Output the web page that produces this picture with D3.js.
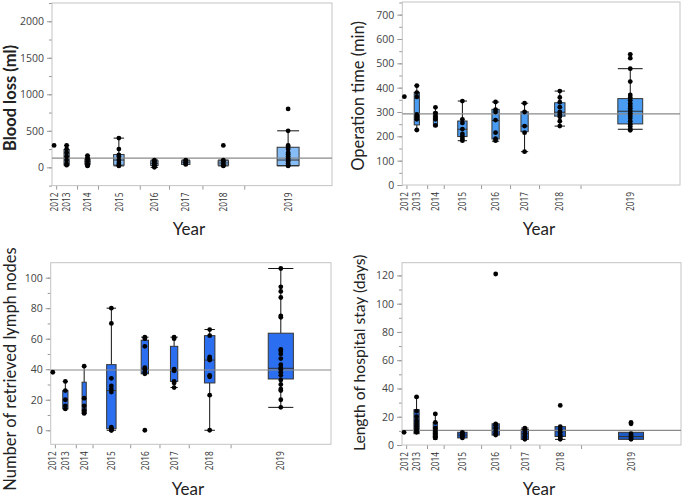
<!DOCTYPE html>
<html>
<head>
<meta charset="utf-8">
<script src="https://cdnjs.cloudflare.com/ajax/libs/d3/7.8.5/d3.min.js"></script>
<style>
  body { margin: 0; background: #fff; }
  svg { display: block; }
</style>
</head>
<body>
<div id="container"></div>
<script>
// Years (x categories)
var years = ["2012", "2013", "2014", "2015", "2016", "2017", "2018", "2019"];

// Blood loss (ml)
var bloodN   = [1, 5, 5, 10, 7, 8, 10, 21];
var bloodQ1  = [null, 30, 40, 30, 25, 40, 30, 25];
var bloodMed = [null, 150, 80, 100, 55, 70, 60, 100];
var bloodQ3  = [null, 245, 120, 175, 90, 90, 90, 275];
var bloodLo  = [null, 30, 20, 20, 0, 40, 20, 20];
var bloodHi  = [null, 300, 160, 400, 100, 100, 100, 500];
var bloodPts = [[300], [300, 250, 200, 150, 100, 50, 30], [160, 130, 110, 80, 50, 30, 20],
  [400, 250, 170, 150, 100, 60, 30, 20], [100, 80, 60, 50, 30, 10, 0], [100, 90, 70, 50, 40],
  [300, 100, 80, 50, 30, 20], [800, 500, 300, 280, 250, 200, 180, 150, 120, 100, 80, 50, 30, 20]];
var bloodMean = 125;

// Operation time (min)
var opN   = [1, 5, 4, 9, 7, 7, 10, 24];
var opQ1  = [null, 247, 245, 199, 189, 219, 283, 251];
var opMed = [null, 280, 275, 229, 265, 242, 299, 303];
var opQ3  = [null, 381, 299, 263, 311, 301, 338, 355];
var opLo  = [null, 226, 240, 182, 180, 137, 242, 229];
var opHi  = [null, 408, 319, 345, 341, 336, 386, 478];
var opPts = [[363], [408, 380, 362, 290, 280, 270, 226], [319, 295, 280, 270, 245],
  [345, 270, 255, 230, 210, 200, 190, 182], [341, 310, 300, 267, 215, 190, 182],
  [336, 300, 242, 215, 137], [386, 360, 340, 320, 300, 290, 280, 262, 242],
  [537, 521, 478, 425, 370, 360, 348, 335, 325, 315, 305, 295, 285, 275, 262, 250, 240, 230, 225]];
var opMean = 292;

// Number of retrieved lymph nodes
var lnN   = [1, 5, 4, 9, 7, 7, 10, 24];
var lnQ1  = [null, 14, 11, 1, 37, 32, 31, 33.6];
var lnMed = [null, 20, 20, 26, 40, 39, 46, 40.6];
var lnQ3  = [null, 26, 31.5, 43, 59, 55, 62, 63.6];
var lnLo  = [null, 14, 11, 0, 37, 28, 0, 15];
var lnHi  = [null, 32, 42, 80, 61, 61, 66, 106];
var lnPts = [[38], [32, 26, 20, 16, 14], [42, 21, 16, 13, 11], [80, 70, 34, 29, 27, 25, 2, 1, 0, 0],
  [61, 60, 55, 41, 40, 38, 37, 0], [61, 60, 40, 39, 32, 31, 28], [66, 62, 48, 47, 46, 36, 35, 23, 0],
  [106, 94, 91, 87, 75, 74, 53, 52, 50, 47, 43, 41, 40, 38, 36, 33, 30, 27, 26, 20, 15]];
var lnMean = 39.5;

// Length of hospital stay (days)
var losN   = [1, 5, 4, 9, 7, 7, 10, 24];
var losQ1  = [null, 8, 5, 5, 7, 4, 6, 4];
var losMed = [null, 14, 8, 7, 12, 8, 10, 6];
var losQ3  = [null, 25, 16, 9, 15, 11, 13, 9];
var losLo  = [null, 8, 4, 5, 7, 4, 4, 4];
var losHi  = [null, 34, 22, 9, 15, 12, 13, 9];
var losPts = [[9], [34, 24, 20, 17, 15, 13, 11, 10, 9], [22, 16, 12, 10, 8, 6, 5], [9, 8, 7, 6, 5],
  [121, 15, 14, 12, 10, 8, 7], [12, 11, 10, 8, 6, 5, 4], [28, 13, 11, 9, 7, 6, 5, 4],
  [16, 15, 8, 7, 6, 5, 4]];
var losMean = 10.3;

var svg = d3.select("#container")
            .append("svg")
              .attr("width", 685)
              .attr("height", 499);

var defs = svg.append("defs");
var panelCount = 0;

function drawPanel(p) {

  panelCount++;
  var g = svg.append("g");

  // Cumulative group edges, widths proportional to n
  var edges = [0];
  p.n.forEach(function(v, i) { edges.push(edges[i] + v); });

  var x = d3.scaleLinear()
            .domain([0, edges[edges.length - 1]])
            .range([p.left, p.right]);

  var y = d3.scaleLinear()
            .domain(p.domain)
            .range([p.bottom, p.top]);

  // Minor y ticks
  g.append("g")
    .attr("transform", "translate(" + p.left + ",0)")
    .call(d3.axisLeft(y).tickValues(p.minor).tickSize(3).tickFormat(""))
    .call(function(a) { a.select(".domain").remove(); })
    .selectAll("line").attr("stroke", "#999");

  // Major y ticks
  var yAxis = g.append("g")
    .attr("transform", "translate(" + p.left + ",0)")
    .call(d3.axisLeft(y).tickValues(p.major).tickSize(5).tickPadding(3).tickFormat(d3.format("d")));
  yAxis.select(".domain").remove();
  yAxis.selectAll("line").attr("stroke", "#999");
  yAxis.selectAll("text")
    .attr("fill", "#444")
    .style("font-family", "'Open Sans', sans-serif")
    .style("font-size", "10.5px");

  // Group boundary ticks on x
  var xAxis = g.append("g")
    .attr("transform", "translate(0," + p.bottom + ")")
    .call(d3.axisBottom(x).tickValues(edges.slice(1, edges.length - 1)).tickSize(4).tickFormat(""));
  xAxis.select(".domain").remove();
  xAxis.selectAll("line").attr("stroke", "#999");

  // Year labels, rotated
  g.selectAll("text.year")
    .data(years)
    .enter()
    .append("text")
      .attr("class", "year")
      .attr("transform", function(d, i) {
        return "translate(" + x((edges[i] + edges[i + 1]) / 2) + "," + (p.bottom + 7) + ") rotate(-90)";
      })
      .attr("dy", "0.35em")
      .attr("text-anchor", "end")
      .attr("textLength", 19)
      .attr("lengthAdjust", "spacingAndGlyphs")
      .style("font-family", "'Open Sans', sans-serif")
      .style("font-size", "10.5px")
      .attr("fill", "#333")
      .text(function(d) { return d; });

  // Frame
  g.append("rect")
    .attr("x", p.left)
    .attr("y", p.top)
    .attr("width", p.right - p.left)
    .attr("height", p.bottom - p.top)
    .attr("fill", "none")
    .attr("stroke", "#c4c4c4");

  var idx = d3.range(years.length).filter(function(i) { return p.q1[i] != null; });
  function cx(i) { return x((edges[i] + edges[i + 1]) / 2); }
  function bw(i) { return (x(edges[i + 1]) - x(edges[i])) * 0.25; }

  // Whiskers
  idx.forEach(function(i) {
    var c = cx(i), h = bw(i) / 2;
    g.append("line")
      .attr("x1", c).attr("x2", c)
      .attr("y1", y(p.q3[i])).attr("y2", y(p.hi[i]))
      .attr("stroke", "#111");
    g.append("line")
      .attr("x1", c).attr("x2", c)
      .attr("y1", y(p.q1[i])).attr("y2", y(p.lo[i]))
      .attr("stroke", "#111");
    if (p.hi[i] > p.q3[i]) {
      g.append("line")
        .attr("x1", c - h).attr("x2", c + h)
        .attr("y1", y(p.hi[i])).attr("y2", y(p.hi[i]))
        .attr("stroke", "#111");
    }
    if (p.lo[i] < p.q1[i]) {
      g.append("line")
        .attr("x1", c - h).attr("x2", c + h)
        .attr("y1", y(p.lo[i])).attr("y2", y(p.lo[i]))
        .attr("stroke", "#111");
    }
  });

  // Boxes
  g.selectAll("rect.box")
    .data(idx)
    .enter()
    .append("rect")
      .attr("class", "box")
      .attr("x", function(i) { return cx(i) - bw(i) / 2; })
      .attr("y", function(i) { return y(p.q3[i]); })
      .attr("width", function(i) { return bw(i); })
      .attr("height", function(i) { return y(p.q1[i]) - y(p.q3[i]); })
      .attr("fill", p.color)
      .attr("stroke", "#333");

  // Medians
  g.selectAll("line.med")
    .data(idx)
    .enter()
    .append("line")
      .attr("class", "med")
      .attr("x1", function(i) { return cx(i) - bw(i) / 2; })
      .attr("x2", function(i) { return cx(i) + bw(i) / 2; })
      .attr("y1", function(i) { return y(p.med[i]); })
      .attr("y2", function(i) { return y(p.med[i]); })
      .attr("stroke", "#333");

  // Grand mean line
  g.append("line")
    .attr("x1", p.left).attr("x2", p.right)
    .attr("y1", y(p.mean)).attr("y2", y(p.mean))
    .attr("stroke", "#8a8a8a")
    .attr("stroke-width", 1.2);

  // Points
  p.pts.forEach(function(list, i) {
    g.selectAll(null)
      .data(list)
      .enter()
      .append("circle")
        .attr("cx", cx(i))
        .attr("cy", function(d) { return y(d); })
        .attr("r", 2.4)
        .attr("fill", "#000");
  });

  // Axis titles (wrapped so an optional clip works in page coords)
  var ylWrap = g.append("g");
  if (p.clipTop != null) {
    var id = "clipYl" + panelCount;
    defs.append("clipPath")
      .attr("id", id)
      .append("rect")
        .attr("x", 0).attr("y", p.clipTop).attr("width", 685).attr("height", 499 - p.clipTop);
    ylWrap.attr("clip-path", "url(#" + id + ")");
  }
  ylWrap.append("text")
    .attr("transform", "translate(" + p.ylx + "," + p.yly + ") rotate(-90)")
    .attr("text-anchor", p.ylAnchor || "middle")
    .attr("dy", "0.35em")
    .attr("fill", "#222")
    .style("font-family", "Lato, sans-serif")
    .style("font-size", (p.ylSize || 16.5) + "px")
    .style("font-weight", p.ylBold ? "bold" : "normal")
    .text(p.ylabel);

  g.append("text")
    .attr("x", p.xlx)
    .attr("y", p.xly)
    .attr("text-anchor", "middle")
    .attr("dy", "0.35em")
    .attr("fill", "#222")
    .style("font-family", "Lato, sans-serif")
    .style("font-size", "17px")
    .text("Year");
}

drawPanel({
  left: 52, right: 332, top: 3, bottom: 185.6,
  domain: [-250, 2250], major: [0, 500, 1000, 1500, 2000], minor: d3.range(-250, 2251, 250),
  n: bloodN, q1: bloodQ1, med: bloodMed, q3: bloodQ3, lo: bloodLo, hi: bloodHi, pts: bloodPts, mean: bloodMean,
  color: "#86bdf6", ylabel: "Blood loss (ml)", ylBold: true, ylx: 10, yly: 98, xlx: 189, xly: 229
});

drawPanel({
  left: 402.3, right: 680, top: 2, bottom: 185,
  domain: [0, 752], major: d3.range(0, 701, 100), minor: d3.range(0, 751, 50),
  n: opN, q1: opQ1, med: opMed, q3: opQ3, lo: opLo, hi: opHi, pts: opPts, mean: opMean,
  color: "#4a9cf2", ylabel: "Operation time (min)", ylx: 358, yly: 96, xlx: 539, xly: 229
});

drawPanel({
  left: 50.7, right: 331, top: 262.7, bottom: 444.3,
  domain: [-9.2, 109.8], major: d3.range(0, 101, 20), minor: d3.range(0, 101, 10),
  n: lnN, q1: lnQ1, med: lnMed, q3: lnQ3, lo: lnLo, hi: lnHi, pts: lnPts, mean: lnMean,
  color: "#2b6ff0", ylabel: "Number of retrieved lymph nodes", ylx: 10, yly: 369, xlx: 188, xly: 489
});

drawPanel({
  left: 402, right: 681, top: 262.7, bottom: 445,
  domain: [0, 129], major: d3.range(0, 121, 20), minor: d3.range(0, 121, 10),
  n: losN, q1: losQ1, med: losMed, q3: losQ3, lo: losLo, hi: losHi, pts: losPts, mean: losMean,
  color: "#1f5bc4", ylabel: "Length of hospital stay (days)", ylAnchor: "start", ylSize: 15.6,
  ylx: 360, yly: 451, clipTop: 251, xlx: 539, xly: 489
});
</script>
</body>
</html>
